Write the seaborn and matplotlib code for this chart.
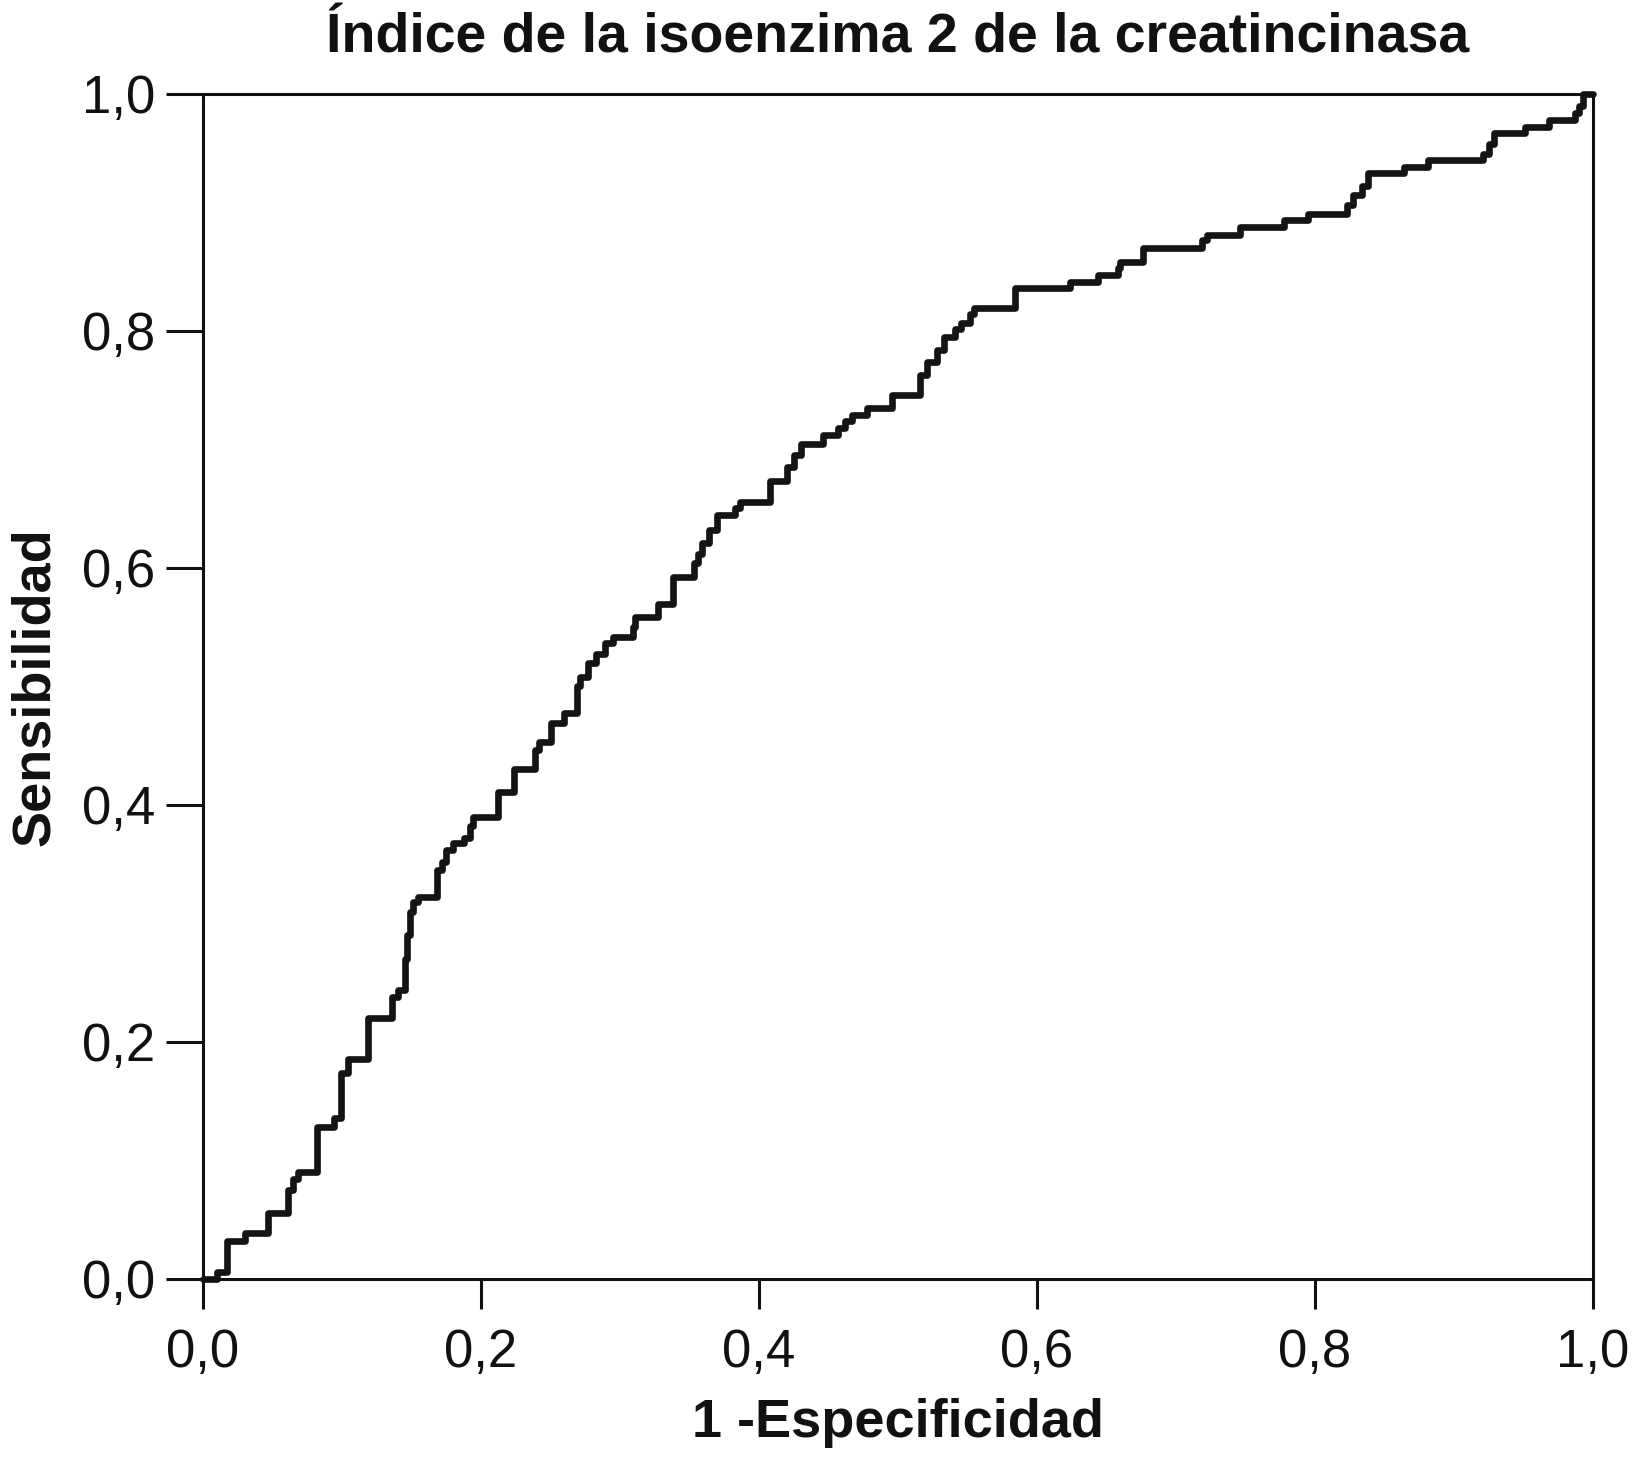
import numpy as np
import pandas as pd
import matplotlib
matplotlib.use("Agg")
import matplotlib.pyplot as plt
import seaborn as sns

# ROC curve: start of each horizontal run (1 - specificity, sensitivity)
fpr = [0.000, 0.010, 0.017, 0.030, 0.047, 0.061, 0.065, 0.068, 0.082, 0.094,
       0.099, 0.104, 0.119, 0.136, 0.140, 0.145, 0.147, 0.149, 0.151, 0.155,
       0.168, 0.172, 0.175, 0.180, 0.188, 0.192, 0.194, 0.212, 0.224, 0.239,
       0.242, 0.250, 0.260, 0.269, 0.271, 0.277, 0.283, 0.289, 0.295, 0.309,
       0.311, 0.327, 0.338, 0.353, 0.356, 0.359, 0.364, 0.370, 0.383, 0.386,
       0.408, 0.420, 0.425, 0.430, 0.446, 0.457, 0.462, 0.467, 0.478, 0.496,
       0.516, 0.521, 0.528, 0.533, 0.541, 0.545, 0.552, 0.555, 0.584, 0.624,
       0.644, 0.658, 0.660, 0.676, 0.719, 0.722, 0.746, 0.778, 0.795, 0.823,
       0.827, 0.834, 0.838, 0.864, 0.881, 0.921, 0.925, 0.929, 0.951, 0.968,
       0.987, 0.990, 0.993, 1.000]
tpr = [0.000, 0.006, 0.032, 0.039, 0.056, 0.075, 0.084, 0.090, 0.128, 0.136,
       0.174, 0.186, 0.220, 0.238, 0.244, 0.270, 0.290, 0.310, 0.318, 0.322,
       0.345, 0.352, 0.362, 0.368, 0.372, 0.382, 0.390, 0.411, 0.430, 0.446,
       0.453, 0.469, 0.478, 0.500, 0.508, 0.520, 0.527, 0.537, 0.542, 0.550,
       0.559, 0.570, 0.592, 0.604, 0.612, 0.621, 0.632, 0.645, 0.651, 0.656,
       0.673, 0.685, 0.695, 0.705, 0.712, 0.718, 0.724, 0.729, 0.735, 0.746,
       0.763, 0.774, 0.784, 0.795, 0.802, 0.807, 0.814, 0.819, 0.836, 0.841,
       0.847, 0.853, 0.858, 0.870, 0.877, 0.881, 0.888, 0.894, 0.899, 0.906,
       0.915, 0.922, 0.933, 0.938, 0.944, 0.949, 0.958, 0.967, 0.972, 0.978,
       0.984, 0.990, 1.000, 1.000]

ticks = [0.0, 0.2, 0.4, 0.6, 0.8, 1.0]
tick_labels = ["0,0", "0,2", "0,4", "0,6", "0,8", "1,0"]

df = pd.DataFrame({"fpr": fpr, "tpr": tpr})

sns.set_style("ticks")
plt.rcParams["font.family"] = ["Liberation Sans", "DejaVu Sans"]
plt.rcParams["text.color"] = "#111111"
plt.rcParams["axes.labelcolor"] = "#111111"
plt.rcParams["xtick.labelcolor"] = "#111111"
plt.rcParams["ytick.labelcolor"] = "#111111"

fig = plt.figure(figsize=(16.32, 14.64), dpi=100)
ax = fig.add_axes([0.1244, 0.1264, 0.8517, 0.8094])

sns.lineplot(data=df, x="fpr", y="tpr", ax=ax, sort=False, color="#141414",
             linewidth=4.8, drawstyle="steps-post", clip_on=False)

ax.set_xlim(0, 1)
ax.set_ylim(0, 1)
ax.set_xticks(ticks)
ax.set_xticklabels(tick_labels)
ax.set_yticks(ticks)
ax.set_yticklabels(tick_labels)

for s in ax.spines.values():
    s.set_visible(True)
    s.set_linewidth(2.2)
    s.set_color("#111111")

ax.tick_params(axis="x", length=21.5, width=2.2, labelsize=38, pad=14, color="#111111")
ax.tick_params(axis="y", length=26.5, width=2.2, labelsize=38, pad=8, color="#111111")

ax.set_title("Índice de la isoenzima 2 de la creatincinasa", fontsize=40,
             fontweight="bold", pad=30)
ax.set_xlabel("1 -Especificidad", fontsize=39, fontweight="bold", labelpad=14)
ax.set_ylabel("Sensibilidad", fontsize=39, fontweight="bold", labelpad=16)

fig.savefig("out.png", dpi=100)
